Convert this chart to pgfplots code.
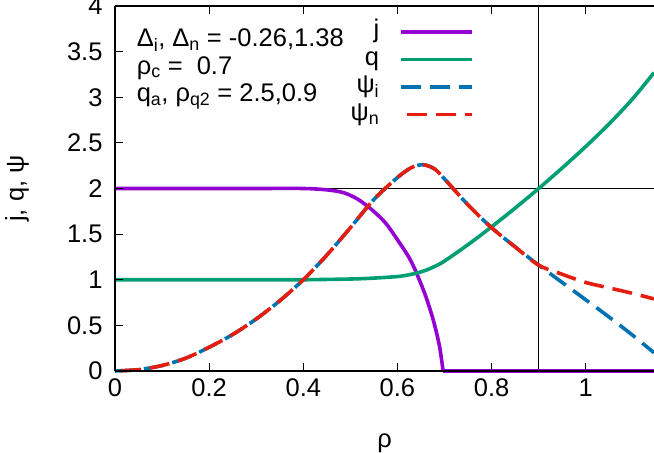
\documentclass[border=0pt]{standalone}
\usepackage{fontspec}
\setmainfont{Liberation Sans}
\usepackage{pgfplots}
\pgfplotsset{compat=1.18}
\usetikzlibrary{calc}

\definecolor{cj}{HTML}{9400D3}
\definecolor{cq}{HTML}{009E73}
\definecolor{cpi}{HTML}{0072B2}
\definecolor{cpn}{HTML}{E51E10}

\begin{document}
\begin{tikzpicture}[font=\fontsize{25.5bp}{27.5bp}\selectfont]
\begin{axis}[scale only axis, width=539bp, height=365bp,
  xmin=0, xmax=1.145, ymin=0, ymax=4,
  axis x line*=box, axis y line*=left,
  axis line style={line width=2.5bp, black},
  tick align=inside, major tick length=8bp,
  tick style={black, line width=1.2bp},
  xtick={0,0.2,0.4,0.6,0.8,1}, ytick={0,0.5,1,1.5,2,2.5,3,3.5,4},
  /pgf/number format/assume math mode=true,
  yticklabel style={xshift=-9bp},
  xticklabel style={yshift=-4bp},
  xlabel={ρ}, ylabel={j, q, ψ},
  xlabel style={at={(axis description cs:0.5,0)}, anchor=center, yshift=-72bp},
  ylabel style={at={(axis description cs:-0.1818,0.5)}, anchor=center},
  axis on top, clip=false,
  legend plot pos=right,
  legend image code/.code={\draw[#1] (0bp,0bp) -- (71bp,0bp);},
  legend style={at={(rel axis cs:0.666,0.965)}, anchor=north east, draw=none, fill=none,
    inner sep=0pt, row sep=1.5bp, font=\fontsize{25.5bp}{27.5bp}\selectfont,
    nodes={inner sep=0pt, text height=19bp, text depth=7bp},
    /tikz/every odd column/.append style={column sep=20bp}},
  legend cell align=right,
]
\coordinate (sw) at (rel axis cs:0,0);
\coordinate (ne) at (rel axis cs:1,1);

% reference lines
\addplot[black, line width=1.2bp, forget plot] coordinates {(0,2) (1.145,2)};
\addplot[black, line width=1.2bp, forget plot] coordinates {(0.9,0) (0.9,4)};

% j
\addplot[cj, line width=3.6bp, smooth] coordinates {
(0,2) (0.1,2) (0.2,2) (0.3,2) (0.4,2) (0.45,1.985) (0.485,1.955) (0.515,1.885)
(0.545,1.77) (0.575,1.62) (0.605,1.40) (0.625,1.24) (0.64,1.08) (0.66,0.82)
(0.676,0.56) (0.689,0.28) (0.697,0)};
\addlegendentry{j}
\addplot[cj, line width=3.6bp, forget plot] coordinates {(0.697,0) (1.145,0)};

% q
\addplot[cq, line width=3.6bp, smooth] coordinates {
(0,1) (0.1,1) (0.2,1) (0.3,1) (0.4,1) (0.5,1.008) (0.55,1.018) (0.6,1.035)
(0.62,1.05) (0.64,1.072) (0.66,1.103) (0.68,1.148) (0.7,1.205) (0.75,1.385)
(0.8,1.58) (0.85,1.785) (0.9,2.0) (0.95,2.225) (1.0,2.46)
(1.05,2.71) (1.1,2.985) (1.145,3.27)};
\addlegendentry{q}

% psi_i
\addplot[cpi, line width=3.6bp, dash pattern=on 20bp off 9bp, smooth] coordinates {
(0,0) (0.05,0.015) (0.1,0.06) (0.15,0.14) (0.2,0.26) (0.25,0.40) (0.3,0.57)
(0.35,0.77) (0.4,1.0) (0.45,1.27) (0.5,1.57) (0.55,1.88) (0.6,2.12)
(0.63,2.23) (0.655,2.26) (0.68,2.21) (0.706,2.07) (0.75,1.82) (0.8,1.57)
(0.85,1.36) (0.9,1.16) (0.95,0.97) (1.0,0.78) (1.05,0.59) (1.1,0.39) (1.145,0.20)};
\addlegendentry{ψ\textsubscript{i}}

% psi_n
\addplot[cpn, line width=3.6bp, dash pattern=on 20bp off 9bp, dash phase=-6bp, smooth] coordinates {
(0,0) (0.05,0.015) (0.1,0.06) (0.15,0.14) (0.2,0.26) (0.25,0.40) (0.3,0.57)
(0.35,0.77) (0.4,1.0) (0.45,1.27) (0.5,1.57) (0.55,1.88) (0.6,2.12)
(0.63,2.23) (0.655,2.26) (0.68,2.21) (0.706,2.07) (0.75,1.82) (0.8,1.57)
(0.85,1.36) (0.9,1.16) (0.95,1.06) (1.0,0.97) (1.05,0.91) (1.1,0.85) (1.145,0.79)};
\addlegendentry{ψ\textsubscript{n}}

\node[anchor=north west, align=left, inner sep=0pt] at (rel axis cs:0.04,0.938)
  {Δ\textsubscript{i}, Δ\textsubscript{n} = -0.26,1.38\\
   ρ\textsubscript{c} =\ \ 0.7\\
   q\textsubscript{a}, ρ\textsubscript{q2} = 2.5,0.9};
\end{axis}
\pgfresetboundingbox
\path[use as bounding box] ($(sw)+(-115bp,-82bp)$) rectangle ($(ne)+(0bp,6bp)$);
\end{tikzpicture}
\end{document}
